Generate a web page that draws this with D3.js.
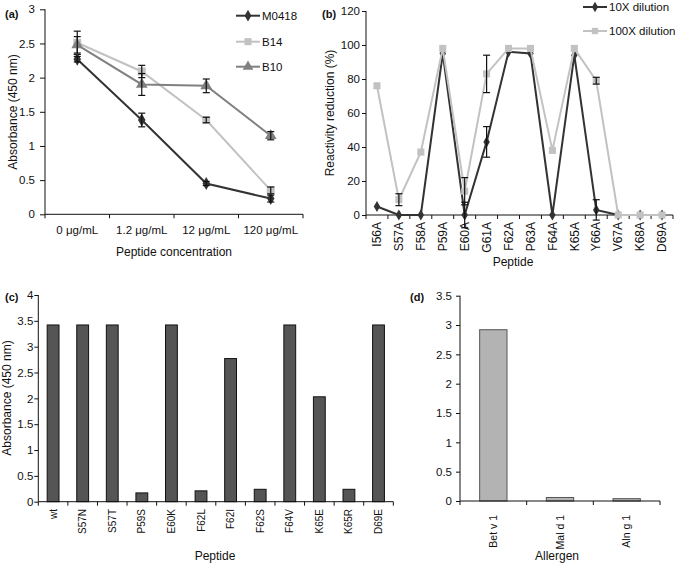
<!DOCTYPE html>
<html><head><meta charset="utf-8">
<script src="https://cdn.jsdelivr.net/npm/d3@7"></script>
<style>
body{margin:0;background:#fff;}
text{font-family:"Liberation Sans",Arial,sans-serif;fill:#111;}
</style></head>
<body>
<svg id="chart" width="680" height="564"></svg>
<script>
// ---------- DATA ----------
const aCategories = ["0 μg/mL","1.2 μg/mL","12 μg/mL","120 μg/mL"];
const aM0418 = [2.27, 1.38, 0.45, 0.23];
const aM0418Err = [0.04, 0.10, 0.03, 0.05];
const aB14 = [2.51, 2.09, 1.38, 0.35];
const aB14Err = [0.17, 0.09, 0.04, 0.05];
const aB10 = [2.48, 1.90, 1.88, 1.15];
const aB10Err = [0.12, 0.16, 0.10, 0.06];
const aTicks = [0, 0.5, 1, 1.5, 2, 2.5, 3];

const bCategories = ["I56A","S57A","F58A","P59A","E60A","G61A","F62A","P63A","F64A","K65A","Y66A","V67A","K68A","D69A"];
const b10X = [5, 0, 0, 95, 0, 43, 96, 95, 0, 94, 3, 0, 0, 0];
const b10XErr = [0, 0, 0, 0, 7.5, 9, 0, 0, 0, 0, 6, 0, 0, 0];
const b100X = [76, 9, 37, 98, 14, 83, 98, 98, 38, 98, 79, 0, 0, 0];
const b100XErr = [0, 3.5, 0, 0, 8, 11, 0, 0, 0, 0, 2, 0, 0, 0];
const bTicks = [0, 20, 40, 60, 80, 100, 120];

const cCategories = ["wt","S57N","S57T","P59S","E60K","F62L","F62I","F62S","F64V","K65E","K65R","D69E"];
const cValues = [3.42, 3.42, 3.42, 0.17, 3.42, 0.21, 2.77, 0.24, 3.42, 2.03, 0.24, 3.42];
const cTicks = [0, 0.5, 1, 1.5, 2, 2.5, 3, 3.5, 4];

const dCategories = ["Bet v 1","Mal d 1","Aln g 1"];
const dValues = [2.92, 0.06, 0.04];
const dTicks = [0, 0.5, 1, 1.5, 2, 2.5, 3, 3.5];

// ---------- HELPERS ----------
const svg = d3.select("#chart");
const fmt = d => String(d);

function yAxis(g, y, ticks, x0, tickSize, pad, fs) {
  const ax = d3.axisLeft(y).tickValues(ticks).tickFormat(fmt).tickSize(tickSize).tickPadding(pad);
  const gg = g.append("g").attr("transform", `translate(${x0},0)`).call(ax);
  gg.selectAll("path,line").attr("stroke", "#111");
  gg.selectAll("text").style("font-size", fs + "px").attr("fill", "#111");
  gg.select(".domain").attr("d", `M0,${y.range()[0]}V${y.range()[1]}`);
}
function xBoundaryAxis(g, x, y0) {
  const [r0, r1] = x.range();
  g.append("line").attr("x1", r0).attr("x2", r1).attr("y1", y0).attr("y2", y0).attr("stroke", "#111");
  const bounds = x.domain().map(d => x(d)).concat([r1]);
  g.selectAll(null).data(bounds).join("line")
    .attr("x1", d => d).attr("x2", d => d).attr("y1", y0).attr("y2", y0 + 4).attr("stroke", "#111");
}
function rotLabels(g, x, top, fs) {
  g.selectAll(null).data(x.domain()).join("text")
    .attr("transform", d => `translate(${x(d) + x.bandwidth() / 2},${top}) rotate(-90)`)
    .attr("text-anchor", "end").attr("dy", "0.35em")
    .style("font-size", fs + "px").text(d => d);
}
function title(g, txt, x, y, fs, rot) {
  g.append("text").attr("transform", `translate(${x},${y})` + (rot ? " rotate(-90)" : ""))
    .attr("text-anchor", "middle").style("font-size", fs + "px").text(txt);
}
function panelLabel(txt, x, y) {
  svg.append("text").attr("x", x).attr("y", y).style("font-size", "11px").style("font-weight", "bold").text(txt);
}
function marker(sel, shape, size, color) {
  const sym = shape === "diamond" ? d3.symbolDiamond : shape === "square" ? d3.symbolSquare : d3.symbolTriangle;
  return sel.attr("d", d3.symbol().type(sym).size(size)).attr("fill", color);
}
function series(g, x, y, cats, vals, errs, color, shape, size, sw) {
  const line = d3.line().x((d, i) => x(cats[i]) + x.bandwidth() / 2).y(d => y(d));
  g.append("path").datum(vals).attr("d", line).attr("fill", "none").attr("stroke", color).attr("stroke-width", sw);
  g.selectAll(null).data(vals).join("path")
    .attr("transform", (d, i) => `translate(${x(cats[i]) + x.bandwidth() / 2},${y(d)})`)
    .call(s => marker(s, shape, size, color));
  const eb = vals.map((v, i) => ({ c: cats[i], v, e: errs[i] })).filter(d => d.e > 0);
  const ge = g.append("g").attr("stroke", "#111").attr("stroke-width", 1.2);
  eb.forEach(d => {
    const cx = x(d.c) + x.bandwidth() / 2;
    ge.append("line").attr("x1", cx).attr("x2", cx).attr("y1", y(d.v - d.e)).attr("y2", y(d.v + d.e));
    ge.append("line").attr("x1", cx - 3.5).attr("x2", cx + 3.5).attr("y1", y(d.v + d.e)).attr("y2", y(d.v + d.e));
    ge.append("line").attr("x1", cx - 3.5).attr("x2", cx + 3.5).attr("y1", y(d.v - d.e)).attr("y2", y(d.v - d.e));
  });
}
function legendRow(g, x0, yy, color, shape, size, label) {
  g.append("line").attr("x1", x0).attr("x2", x0 + 24).attr("y1", yy).attr("y2", yy).attr("stroke", color).attr("stroke-width", 2);
  g.append("path").attr("transform", `translate(${x0 + 12},${yy})`).call(s => marker(s, shape, size, color));
  g.append("text").attr("x", x0 + 26).attr("y", yy).attr("dy", "0.35em").style("font-size", "11.5px").text(label);
}

// ---------- PANEL A ----------
{
  const g = svg.append("g");
  const x = d3.scaleBand().domain(aCategories).range([45, 303]).padding(0);
  const y = d3.scaleLinear().domain([0, 3]).range([214.3, 9.3]);
  yAxis(g, y, aTicks, 45, 5, 5, 11.5);
  xBoundaryAxis(g, x, 214.3);
  g.selectAll(null).data(aCategories).join("text")
    .attr("x", d => x(d) + x.bandwidth() / 2).attr("y", 234)
    .attr("text-anchor", "middle").style("font-size", "11.5px").text(d => d);
  title(g, "Peptide concentration", 174, 255.5, 12, false);
  title(g, "Absorbance (450 nm)", 17, 112, 12, true);
  series(g, x, y, aCategories, aB14, aB14Err, "#c2c2c2", "square", 64, 2);
  series(g, x, y, aCategories, aB10, aB10Err, "#808080", "triangle", 60, 2);
  series(g, x, y, aCategories, aM0418, aM0418Err, "#333333", "diamond", 48, 2);
  legendRow(g, 236, 15.7, "#333333", "diamond", 40, "M0418");
  legendRow(g, 236, 41.7, "#c2c2c2", "square", 50, "B14");
  legendRow(g, 236, 66.7, "#808080", "triangle", 50, "B10");
  panelLabel("(a)", 5, 18);
}

// ---------- PANEL B ----------
{
  const g = svg.append("g");
  const x = d3.scaleBand().domain(bCategories).range([366, 673]).padding(0);
  const y = d3.scaleLinear().domain([0, 120]).range([215, 11]);
  yAxis(g, y, bTicks, 366, 4, 2, 11.5);
  xBoundaryAxis(g, x, 215);
  rotLabels(g, x, 222, 12);
  title(g, "Peptide", 513, 266, 12, false);
  title(g, "Reactivity reduction (%)", 334, 113, 12, true);
  series(g, x, y, bCategories, b10X, b10XErr, "#333333", "diamond", 36, 2);
  series(g, x, y, bCategories, b100X, b100XErr, "#c2c2c2", "square", 50, 2);
  legendRow(g, 583, 7, "#333333", "diamond", 32, "10X dilution");
  legendRow(g, 583, 31, "#c2c2c2", "square", 40, "100X dilution");
  panelLabel("(b)", 322, 18);
}

// ---------- PANEL C ----------
{
  const g = svg.append("g");
  const x = d3.scaleBand().domain(cCategories).range([38.3, 393.3]).padding(0);
  const y = d3.scaleLinear().domain([0, 4]).range([501.7, 295]);
  const bw = x.bandwidth() * 0.4;
  g.selectAll(null).data(cValues).join("rect")
    .attr("x", (d, i) => x(cCategories[i]) + (x.bandwidth() - bw) / 2)
    .attr("y", d => y(d)).attr("width", bw).attr("height", d => y(0) - y(d))
    .attr("fill", "#555555").attr("stroke", "#111").attr("stroke-width", 1);
  yAxis(g, y, cTicks, 38.3, 4, 1, 11.5);
  xBoundaryAxis(g, x, 501.7);
  rotLabels(g, x, 509, 10);
  title(g, "Peptide", 215, 560, 12, false);
  title(g, "Absorbance (450 nm)", 11, 398, 12, true);
  panelLabel("(c)", 5, 301);
}

// ---------- PANEL D ----------
{
  const g = svg.append("g");
  const x = d3.scaleBand().domain(dCategories).range([460, 660]).padding(0);
  const y = d3.scaleLinear().domain([0, 3.5]).range([501, 295.7]);
  const bw = x.bandwidth() * 0.41;
  g.selectAll(null).data(dValues).join("rect")
    .attr("x", (d, i) => x(dCategories[i]) + (x.bandwidth() - bw) / 2)
    .attr("y", d => y(d)).attr("width", bw).attr("height", d => y(0) - y(d))
    .attr("fill", "#b3b3b3").attr("stroke", "#555").attr("stroke-width", 1);
  yAxis(g, y, dTicks, 460, 4, 4, 11.5);
  xBoundaryAxis(g, x, 501);
  rotLabels(g, x, 515, 10.5);
  title(g, "Allergen", 557, 560, 12, false);
  panelLabel("(d)", 410, 301);
}
</script>
</body></html>
